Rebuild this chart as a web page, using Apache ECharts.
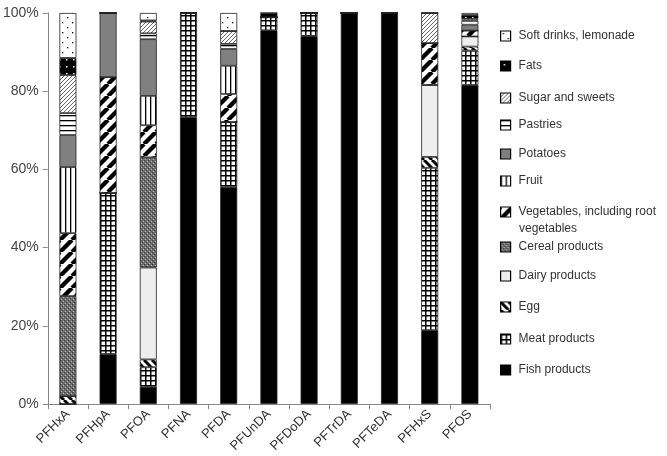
<!DOCTYPE html>
<html>
<head>
<meta charset="utf-8">
<script src="https://cdn.jsdelivr.net/npm/echarts@6/dist/echarts.min.js"></script>
<style>
html, body { margin: 0; padding: 0; background: #fff; }
#main { width: 667px; height: 456px; }
</style>
</head>
<body>
<div id="main"></div>
<script>
var categories = ['PFHxA', 'PFHpA', 'PFOA', 'PFNA', 'PFDA', 'PFUnDA', 'PFDoDA', 'PFTrDA', 'PFTeDA', 'PFHxS', 'PFOS'];

// share of intake (%) per food group, bottom of stack first
var fish     = [0,    12.8, 4.4,  73.4, 55.5, 95.6, 94.1, 100, 100, 18.9, 81.6];
var meat     = [0,    41.2, 5.0,  26.6, 16.6, 3.3,  5.9,  0,   0,   41.5, 8.8];
var egg      = [2.0,  0,    2.0,  0,    0,    0,    0,    0,   0,   2.8,  1.0];
var dairy    = [0,    0,    23.5, 0,    0,    0,    0,    0,   0,   18.4, 2.6];
var cereal   = [25.6, 0,    28.2, 0,    0,    0,    0,    0,   0,   0,    0];
var veg      = [16.1, 29.6, 8.2,  0,    7.2,  0,    0,    0,   0,   10.7, 1.5];
var fruit    = [16.9, 0,    7.5,  0,    7.2,  0,    0,    0,   0,   0,    0];
var potatoes = [8.2,  16.4, 14.5, 0,    4.3,  0,    0,    0,   0,   0,    1.5];
var pastries = [5.6,  0,    1.5,  0,    1.3,  0,    0,    0,   0,   0,    1.0];
var sugar    = [9.7,  0,    3.0,  0,    3.3,  0,    0,    0,   0,   7.7,  0.5];
var fats     = [4.4,  0,    0.3,  0,    0,    1.1,  0,    0,   0,   0,    1.0];
var soft     = [11.5, 0,    1.9,  0,    4.6,  0,    0,    0,   0,   0,    0.5];

var seriesNames = ['Fish products', 'Meat products', 'Egg', 'Dairy products', 'Cereal products',
  'Vegetables, including root vegetables', 'Fruit', 'Potatoes', 'Pastries', 'Sugar and sweets',
  'Fats', 'Soft drinks, lemonade'];
var seriesData = [fish, meat, egg, dairy, cereal, veg, fruit, potatoes, pastries, sugar, fats, soft];
var yTicks = [0, 20, 40, 60, 80, 100];

// little canvas tiles used as fills
function tile(w, h, draw) {
  var c = document.createElement('canvas');
  c.width = w; c.height = h;
  var ctx = c.getContext('2d');
  draw(ctx, w, h);
  return { image: c, repeat: 'repeat' };
}
function diag(ctx, s, up, color, lw) {
  ctx.strokeStyle = color; ctx.lineWidth = lw;
  ctx.beginPath();
  for (var k = -1; k <= 1; k++) {
    if (up) { ctx.moveTo(k * s, s); ctx.lineTo(k * s + s, 0); }
    else { ctx.moveTo(k * s, 0); ctx.lineTo(k * s + s, s); }
  }
  ctx.stroke();
}

var fills = [
  '#000000',
  tile(5, 5, function (ctx) { ctx.fillStyle = '#000'; ctx.fillRect(0, 0, 5, 5); ctx.fillStyle = '#fff'; ctx.fillRect(1.5, 1.5, 3.5, 3.5); }),
  tile(8, 8, function (ctx, w) { ctx.fillStyle = '#fff'; ctx.fillRect(0, 0, w, w); diag(ctx, w, false, '#000', 3); }),
  '#eeeeee',
  tile(4, 4, function (ctx) {
    ctx.fillStyle = '#6e6e6e'; ctx.fillRect(0, 0, 4, 4);
    ctx.fillStyle = '#333'; ctx.fillRect(0, 0, 1, 1); ctx.fillRect(2, 2, 1, 1);
    ctx.fillStyle = '#bdbdbd'; ctx.fillRect(1, 3, 1, 1); ctx.fillRect(3, 1, 1, 1);
  }),
  tile(12, 12, function (ctx, w) { ctx.fillStyle = '#fff'; ctx.fillRect(0, 0, w, w); diag(ctx, w, true, '#000', 4.3); }),
  tile(5, 5, function (ctx) { ctx.fillStyle = '#fff'; ctx.fillRect(0, 0, 5, 5); ctx.fillStyle = '#000'; ctx.fillRect(0, 0, 1.3, 5); }),
  '#808080',
  tile(5, 5, function (ctx) { ctx.fillStyle = '#fff'; ctx.fillRect(0, 0, 5, 5); ctx.fillStyle = '#000'; ctx.fillRect(0, 0, 5, 1.3); }),
  tile(4, 4, function (ctx, w) { ctx.fillStyle = '#fff'; ctx.fillRect(0, 0, w, w); diag(ctx, w, true, '#666', 1); }),
  tile(7, 7, function (ctx) { ctx.fillStyle = '#000'; ctx.fillRect(0, 0, 7, 7); ctx.fillStyle = '#fff'; ctx.fillRect(3, 3, 1.5, 1.5); }),
  tile(10, 10, function (ctx) { ctx.fillStyle = '#fff'; ctx.fillRect(0, 0, 10, 10); ctx.fillStyle = '#000'; ctx.fillRect(2, 2, 1.3, 1.3); ctx.fillRect(7, 7, 1.3, 1.3); })
];

var squareIcon = 'path://M0,0L10,0L10,10L0,10Z';

// legend rows, top to bottom (centre y of each icon)
var legendOrder = [11, 10, 9, 8, 7, 6, 5, 4, 3, 2, 1, 0];
var legendY = [37, 67, 99, 126, 155, 182, 213, 248, 277, 308, 340, 371];

var legends = legendOrder.map(function (si, i) {
  return {
    data: [{ name: seriesNames[si], icon: squareIcon }],
    left: 500, top: legendY[i] - 7,
    orient: 'vertical', padding: 0,
    icon: squareIcon,
    itemWidth: 10, itemHeight: 10,
    selectedMode: false,
    itemStyle: { borderColor: '#000', borderWidth: 1.2 },
    formatter: function (n) { return n === seriesNames[5] ? 'Vegetables, including root' : n; },
    textStyle: { fontFamily: 'Liberation Sans', fontSize: 12, color: '#333', padding: [0, 0, 0, 3] }
  };
});

var series = seriesData.map(function (d, i) {
  return {
    name: seriesNames[i],
    type: 'bar',
    stack: 'all',
    barWidth: 17,
    data: d,
    itemStyle: { color: fills[i], borderColor: '#222', borderWidth: 0.8 }
  };
});

var myChart = echarts.init(document.getElementById('main'));
var option = {
  animation: false,
  backgroundColor: '#fff',
  grid: { left: 40, right: 177, top: 13, bottom: 52 },
  legend: legends,
  graphic: [{
    type: 'text', left: 519, top: 223,
    style: { text: 'vegetables', fontFamily: 'Liberation Sans', fontSize: 12, fill: '#333' }
  }],
  xAxis: {
    type: 'category',
    data: categories,
    axisLine: { lineStyle: { color: '#888' } },
    axisTick: { show: true, length: 5, lineStyle: { color: '#888' } },
    axisLabel: { rotate: 45, margin: 8, fontFamily: 'Liberation Sans', fontSize: 13, color: '#333' }
  },
  yAxis: {
    type: 'value',
    min: yTicks[0], max: yTicks[yTicks.length - 1], interval: 20,
    splitLine: { show: false },
    axisLine: { show: true, lineStyle: { color: '#888' } },
    axisTick: { show: true, length: 5, lineStyle: { color: '#888' } },
    axisLabel: { formatter: '{value}%', margin: 9, fontFamily: 'Liberation Sans', fontSize: 14, color: '#444' }
  },
  series: series
};
myChart.setOption(option);
</script>
</body>
</html>
